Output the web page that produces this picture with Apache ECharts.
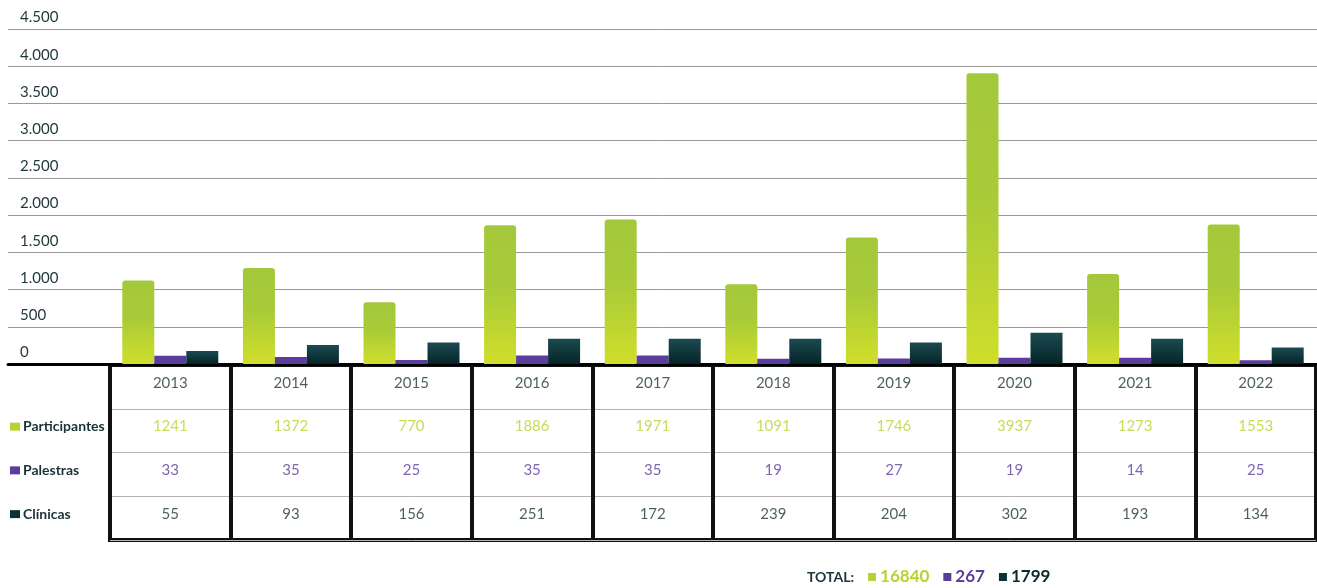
<!DOCTYPE html>
<html>
<head>
<meta charset="utf-8">
<title>Participantes, Palestras y Clínicas</title>
<script src="https://cdn.jsdelivr.net/npm/echarts@6/dist/echarts.min.js"></script>
<style>
  html, body { margin: 0; padding: 0; background: #fff; }
  #main { width: 1317px; height: 588px; }
</style>
</head>
<body>
<div id="main"></div>
<script>
const years = ['2013', '2014', '2015', '2016', '2017', '2018', '2019', '2020', '2021', '2022']
// values printed in the table
const participantes = [1241, 1372, 770, 1886, 1971, 1091, 1746, 3937, 1273, 1553]
const palestras = [33, 35, 25, 35, 35, 19, 27, 19, 14, 25]
const clinicas = [55, 93, 156, 251, 172, 239, 204, 302, 193, 134]
// bar heights as drawn in the picture (they do not follow the table exactly)
const participantesBar = [1120, 1290, 830, 1865, 1940, 1070, 1700, 3905, 1210, 1875]
const palestrasBar = [110, 95, 55, 115, 115, 70, 75, 85, 85, 50]
const clinicasBar = [175, 255, 290, 340, 340, 340, 290, 420, 340, 220]
const yTicks = ['0', '500', '1.000', '1.500', '2.000', '2.500', '3.000', '3.500', '4.000', '4.500']
const rowNames = ['', 'Participantes', 'Palestras', 'Clínicas']

const DARK = '#1d3539'
const GREEN = '#b6d334'
const PURPLE = '#5b3d9b'
const rowColors = [DARK, GREEN, PURPLE, DARK]
const FONT = 'Lato'

const sum = arr => arr.reduce((a, b) => a + b, 0)

let tableData = []
years.forEach((y, i) => {
  const cells = [y, participantes[i], palestras[i], clinicas[i]]
  cells.forEach((v, r) => {
    tableData.push({ value: [i, r, String(v)], label: { color: rowColors[r] } })
  })
})

const chart = echarts.init(document.getElementById('main'))
window.addEventListener('resize', () => { chart.resize() })

chart.setOption({
  animation: false,
  textStyle: { fontFamily: FONT },
  title: {
    left: 802,
    top: 562,
    text: '{l|TOTAL:}{gap| }{s0| }{sp| }{v0|' + sum(participantes) + '}{gap| }{s1| }{sp| }{v1|' + sum(palestras) +
      '}{gap| }{s2| }{sp| }{v2|' + sum(clinicas) + '}',
    textStyle: {
      rich: {
        l: { fontFamily: FONT, fontSize: 14, color: DARK, height: 20 },
        gap: { width: 14 },
        sp: { width: 4 },
        s0: { width: 8, height: 8, backgroundColor: GREEN },
        s1: { width: 8, height: 8, backgroundColor: PURPLE },
        s2: { width: 8, height: 8, backgroundColor: '#0d3034' },
        v0: { fontFamily: FONT, fontSize: 17, fontWeight: 'bold', color: GREEN },
        v1: { fontFamily: FONT, fontSize: 17, fontWeight: 'bold', color: PURPLE },
        v2: { fontFamily: FONT, fontSize: 17, fontWeight: 'bold', color: '#0d2a2e' }
      }
    }
  },
  grid: [
    { left: 8, right: 0, top: 29, bottom: 224 },
    { left: 110, right: 1, top: 29, bottom: 224 },
    { left: 110, right: 1, top: 365, bottom: 48, show: true, borderColor: '#111', borderWidth: 4 }
  ],
  xAxis: [
    {
      gridIndex: 0,
      type: 'value',
      min: 0,
      max: 1,
      axisLine: { show: true, lineStyle: { color: '#000', width: 3 } },
      axisTick: { show: false },
      axisLabel: { show: false },
      splitLine: { show: false }
    },
    {
      gridIndex: 1,
      type: 'category',
      data: years,
      axisLine: { show: false },
      axisTick: { show: false },
      axisLabel: { show: false }
    },
    {
      gridIndex: 2,
      type: 'category',
      data: years,
      axisLine: { show: false },
      axisTick: { show: false },
      axisLabel: { show: false },
      splitLine: { show: true, interval: 0, lineStyle: { color: '#111', width: 4 } }
    }
  ],
  yAxis: [
    {
      // long grid lines only
      gridIndex: 0,
      type: 'value',
      min: 0,
      max: 4500,
      interval: 500,
      axisLine: { show: false },
      axisTick: { show: false },
      axisLabel: { show: false },
      splitLine: { lineStyle: { color: '#999', width: 1 } }
    },
    {
      gridIndex: 1,
      type: 'value',
      min: 0,
      max: 4500,
      interval: 500,
      axisLine: { show: false },
      axisTick: { show: false },
      splitLine: { show: false },
      axisLabel: {
        margin: 90,
        align: 'left',
        verticalAlign: 'bottom',
        padding: [0, 0, 4, 0],
        fontFamily: FONT,
        fontSize: 15,
        color: '#1f363a',
        formatter: v => yTicks[Math.round(v / 500)]
      }
    },
    {
      gridIndex: 2,
      type: 'category',
      inverse: true,
      data: rowNames,
      axisLine: { show: false },
      axisTick: { show: false },
      splitLine: { show: true, interval: 0, lineStyle: { color: '#b3b3b3', width: 1 } },
      axisLabel: {
        margin: 100,
        align: 'left',
        padding: [0, 0, 8, 0],
        formatter: (v, i) => v ? '{s' + i + '| }{sp| }{t|' + v + '}' : '',
        rich: {
          s1: { width: 10, height: 8, backgroundColor: GREEN },
          s2: { width: 10, height: 8, backgroundColor: PURPLE },
          s3: { width: 10, height: 8, backgroundColor: '#0d3034' },
          sp: { width: 3 },
          t: { fontFamily: FONT, fontSize: 14, fontWeight: 'bold', color: '#1a3236' }
        }
      }
    }
  ],
  series: [
    {
      name: 'Participantes',
      type: 'bar',
      xAxisIndex: 1,
      yAxisIndex: 1,
      barWidth: 32,
      barGap: '0%',
      data: participantesBar,
      itemStyle: {
        borderRadius: [3, 3, 0, 0],
        color: new echarts.graphic.LinearGradient(0, 0, 0, 1, [
          { offset: 0, color: '#a3c83b' },
          { offset: 0.45, color: '#a9cb38' },
          { offset: 1, color: '#d0de2b' }
        ])
      }
    },
    {
      name: 'Palestras',
      type: 'bar',
      xAxisIndex: 1,
      yAxisIndex: 1,
      barWidth: 32,
      barGap: '0%',
      data: palestrasBar,
      itemStyle: { color: PURPLE }
    },
    {
      name: 'Clínicas',
      type: 'bar',
      xAxisIndex: 1,
      yAxisIndex: 1,
      barWidth: 32,
      barGap: '0%',
      data: clinicasBar,
      itemStyle: {
        color: new echarts.graphic.LinearGradient(0, 0, 0, 1, [
          { offset: 0, color: '#1b4b51' },
          { offset: 1, color: '#052427' }
        ])
      }
    },
    {
      name: 'tabla',
      type: 'scatter',
      xAxisIndex: 2,
      yAxisIndex: 2,
      symbolSize: 1,
      itemStyle: { color: 'rgba(0,0,0,0)' },
      data: tableData,
      label: {
        show: true,
        position: 'inside',
        offset: [0, -4],
        fontFamily: FONT,
        fontSize: 15,
        formatter: p => p.value[2]
      }
    }
  ]
})
</script>
</body>
</html>
